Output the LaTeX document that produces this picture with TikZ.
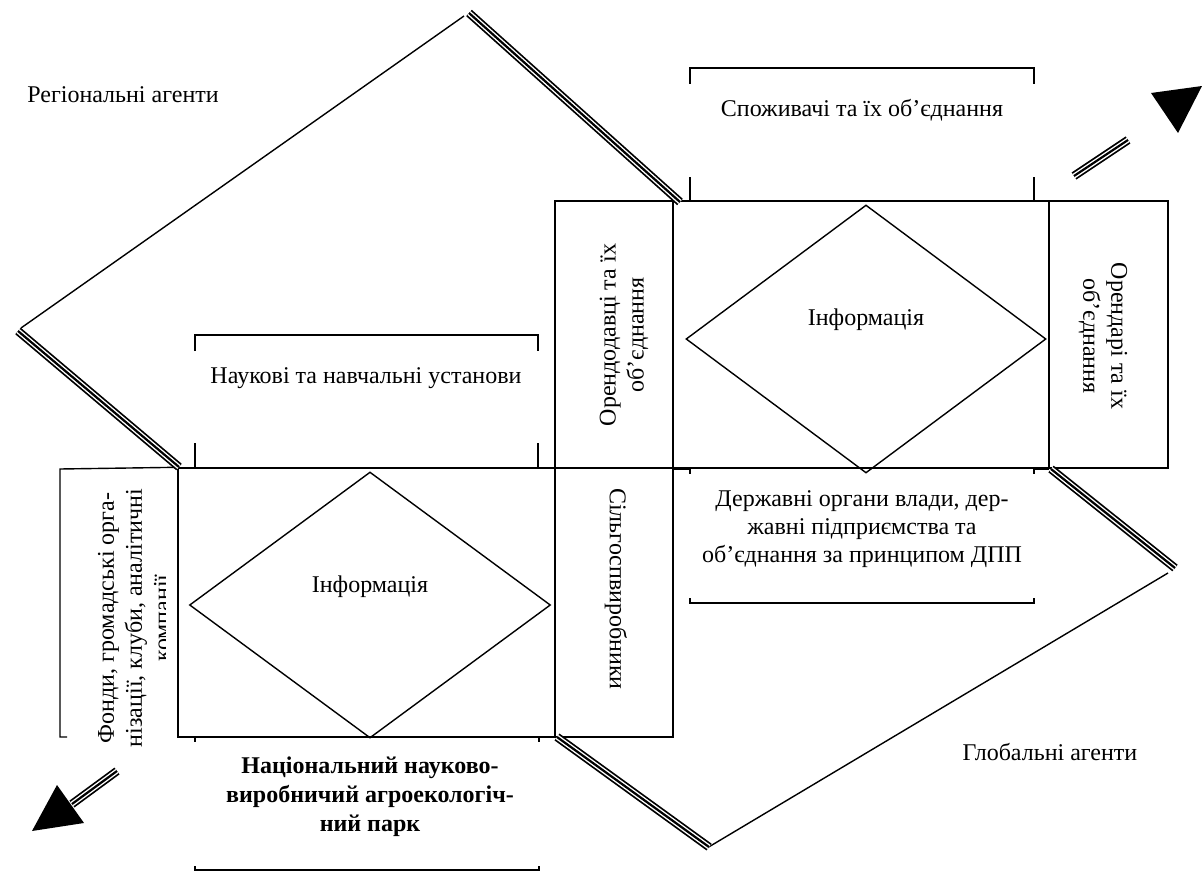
\documentclass[tikz,border=0pt]{standalone}
\usepackage{fontspec}
\setmainfont{Liberation Serif}
\usetikzlibrary{shapes.geometric}
\begin{document}
\begin{tikzpicture}[x=1pt,y=-1pt,
  box/.style={draw, line width=1.4pt, inner sep=0pt},
  rhomb/.style={draw, diamond, line width=1.4pt, inner sep=0pt},
  edge/.style={line width=1.4pt},
  triple/.style={line width=2.2pt, preaction={draw, line width=8.5pt},
    preaction={draw, white, line width=5pt}},
  lbl/.style={font=\fontsize{24}{28}\selectfont, align=center, inner sep=0pt},
  blbl/.style={font=\fontsize{24}{29}\selectfont\bfseries, align=center, inner sep=0pt},
]
\useasboundingbox (0,0) rectangle (1202,872);

% central blocks
\node[box, minimum width=376pt, minimum height=267pt] (infoU) at (861,334.5) {};
\node[box, minimum width=118pt, minimum height=267pt] (lessor) at (614,334.5) {};
\node[box, minimum width=119pt, minimum height=267pt] (tenant) at (1108.5,334.5) {};
\node[box, minimum width=377pt, minimum height=269pt] (infoL) at (366.5,602.5) {};
\node[box, minimum width=118pt, minimum height=269pt] (farm) at (614,602.5) {};
\node[rhomb, minimum width=360pt, minimum height=268pt] (diaU) at (866,339) {};
\node[rhomb, minimum width=361pt, minimum height=266pt] (diaL) at (370,605) {};

% open frames
\draw[edge] (67,737) -- (60,737) -- (60,469) -- (infoL.north west);
\draw[edge] (195,351) -- (195,335) -- (538,335) -- (538,351);
\draw[edge] (195,443) -- (195,468) -- (178,468);
\draw[edge] (538,443) -- (538,468) -- (555,468);
\draw[edge] (690,84) -- (690,68) -- (1034,68) -- (1034,84);
\draw[edge] (690,177) -- (690,201) -- (673,201);
\draw[edge] (1034,177) -- (1034,201) -- (1049,201);
\draw[edge] (673,469) -- (690,469) -- (690,474);
\draw[edge] (1049,469) -- (1034,469) -- (1034,474);
\draw[edge] (690,598) -- (690,603) -- (1034,603) -- (1034,598);
\draw[edge] (178,737) -- (195,737) -- (195,742);
\draw[edge] (555,737) -- (539,737) -- (539,742);
\draw[edge] (195,866) -- (195,870) -- (539,870) -- (539,866);

% regional agents outline
\coordinate (rTop) at (469,13);
\coordinate (rTopEnd) at (680,202);
\coordinate (rLeft) at (18,331);
\coordinate (rLeftEnd) at (179,467);
\draw[edge] (464,16) -- (21,328);
\draw[triple] (rTop) -- (rTopEnd);
\draw[triple] (rLeft) -- (rLeftEnd);

% global agents outline
\coordinate (gRight) at (1051,469);
\coordinate (gRightEnd) at (1175,568);
\coordinate (gBottom) at (709,847);
\coordinate (gBottomEnd) at (557,737);
\draw[edge] (1168,573) -- (707,848);
\draw[triple] (gRight) -- (gRightEnd);
\draw[triple] (gBottom) -- (gBottomEnd);

% outward arrows
\coordinate (aUfrom) at (1074,176);
\coordinate (aUto) at (1128,140);
\draw[triple] (aUfrom) -- (aUto);
\fill (1151,93) -- (1202,86) -- (1178,133) -- cycle;
\coordinate (aLfrom) at (117,771);
\coordinate (aLto) at (72,804);
\draw[triple] (aLfrom) -- (aLto);
\fill (57,785) -- (84,823) -- (32,831) -- cycle;

% labels
\node[lbl] (regional) at (123,95) {Регіональні агенти};
\node[lbl] (consumers) at (862,110) {Споживачі та їх об’єднання};
\node[lbl] (science) at (366,378) {Наукові та навчальні установи};
\node[lbl] (infoUtxt) at (866,320) {Інформація};
\node[lbl] (infoLtxt) at (370,587) {Інформація};
\node[lbl, rotate=90] (lessorTxt) at (624,335) {Орендодавці та їх\\об’єднання};
\node[lbl, rotate=-90] (tenantTxt) at (1103,336) {Орендарі та їх\\об’єднання};
\node[lbl, rotate=-90] (farmTxt) at (616,589) {Сільгоспвиробники};
\begin{scope}
  \clip (40,460) rectangle (165,760);
  \node[lbl, rotate=90] (fundsTxt) at (134,618) {Фонди, громадські орга-\\нізації, клуби, аналітичні\\компанії};
\end{scope}
\node[lbl] (stateTxt) at (862,529) {Державні органи влади, дер-\\жавні підприємства та\\об’єднання за принципом ДПП};
\node[blbl] (parkTxt) at (370,797) {Національний науково-\\виробничий агроекологіч-\\ний парк};
\node[lbl] (globalTxt) at (1050,752) {Глобальні агенти};
\end{tikzpicture}
\end{document}
